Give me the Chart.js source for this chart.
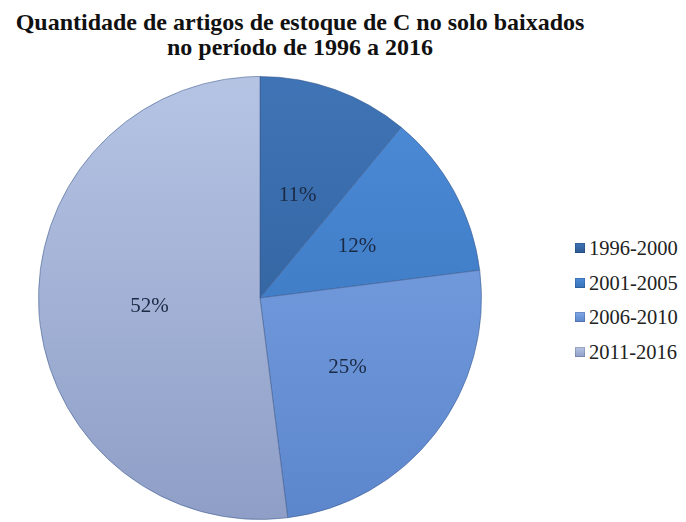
<!DOCTYPE html>
<html>
<head>
<meta charset="utf-8">
<script src="https://cdn.jsdelivr.net/npm/chart.js@4.4.0/dist/chart.umd.min.js"></script>
<style>
  html, body { margin: 0; padding: 0; background: #ffffff; }
  body { width: 686px; height: 522px; position: relative; overflow: hidden; font-family: "Liberation Serif", "Times New Roman", serif; }
  #title { position: absolute; left: 0; top: 10px; width: 600px; text-align: center; font-weight: bold; font-size: 24px; line-height: 25px; color: #111; white-space: nowrap; }
  #box { position: absolute; left: 38px; top: 75px; width: 444px; height: 446px; }
  #legend { position: absolute; left: 575px; top: 237px; }
  .row { height: 34.7px; display: flex; align-items: flex-start; font-size: 20.5px; color: #222; line-height: 22px; }
  .sw { width: 10px; height: 10px; margin-right: 4px; margin-top: 6px; box-shadow: inset 0 0 0 1px rgba(0,0,0,0.15); }
</style>
</head>
<body>
<div id="title">Quantidade de artigos de estoque de C no solo baixados<br>no período de 1996 a 2016</div>
<div id="box"><canvas id="c"></canvas></div>
<div id="legend"></div>
<script>
const categories = ["1996-2000", "2001-2005", "2006-2010", "2011-2016"];
const values = [11, 12, 25, 52];
const pctLabels = ["11%", "12%", "25%", "52%"];
const topColors = ["#3f74b6", "#4d8cd8", "#80a8e8", "#b6c4e4"];
const bottomColors = ["#2c5a93", "#3670b8", "#5c86cc", "#8e9ec6"];
const flatColors = ["#33659f", "#4180c9", "#6c97dc", "#a2b1d6"];

const legend = document.getElementById('legend');
categories.forEach((c, i) => {
  const r = document.createElement('div'); r.className = 'row';
  const s = document.createElement('div'); s.className = 'sw';
  s.style.background = 'linear-gradient(' + topColors[i] + ',' + bottomColors[i] + ')';
  const t = document.createElement('span'); t.textContent = c;
  r.appendChild(s); r.appendChild(t); legend.appendChild(r);
});

const labelPlugin = {
  id: 'pctLabels',
  afterDatasetsDraw(chart) {
    const ctx = chart.ctx;
    const meta = chart.getDatasetMeta(0);
    ctx.save();
    ctx.font = '21px "Liberation Serif", serif';
    ctx.fillStyle = '#1b2a44';
    ctx.textAlign = 'center';
    ctx.textBaseline = 'middle';
    meta.data.forEach((arc, i) => {
      const p = arc.tooltipPosition();
      ctx.fillText(pctLabels[i], p.x, p.y + 2);
    });
    ctx.restore();
  }
};

new Chart(document.getElementById('c'), {
  type: 'pie',
  data: {
    labels: categories,
    datasets: [{
      data: values,
      backgroundColor(ctx) {
        const chart = ctx.chart; const a = chart.chartArea;
        const i = ctx.dataIndex;
        if (!a) return flatColors[i];
        const g = chart.ctx.createLinearGradient(0, a.top, 0, a.bottom);
        g.addColorStop(0, topColors[i]);
        g.addColorStop(1, bottomColors[i]);
        return g;
      },
      borderColor: 'rgba(60,90,140,0.55)',
      borderWidth: 1
    }]
  },
  options: {
    responsive: true,
    maintainAspectRatio: false,
    animation: false,
    layout: { padding: 0 },
    plugins: { legend: { display: false }, title: { display: false }, tooltip: { enabled: false } }
  },
  plugins: [labelPlugin]
});
</script>
</body>
</html>
